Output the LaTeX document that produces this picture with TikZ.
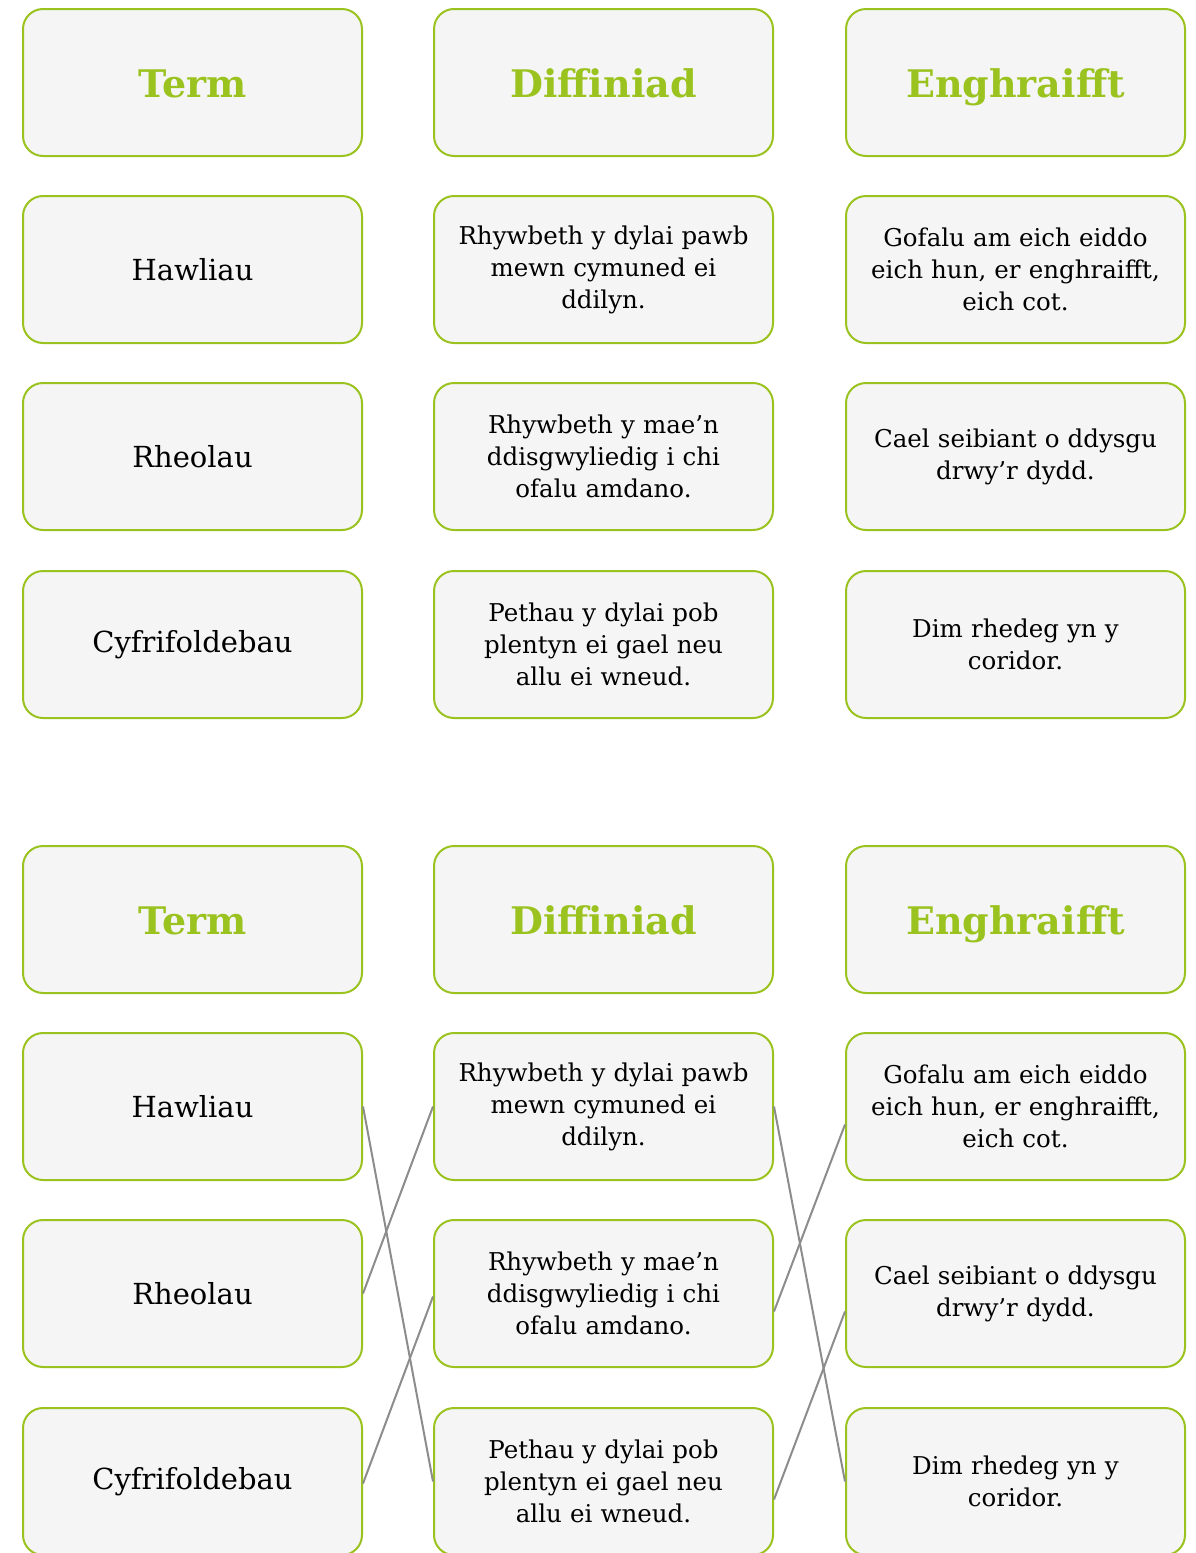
\documentclass[tikz,border=0pt]{standalone}
\usepackage{fontspec}
\setmainfont{DejaVu Serif}
\definecolor{boxgreen}{HTML}{9BC31F}
\definecolor{boxfill}{HTML}{F5F5F5}
\definecolor{linkgray}{HTML}{8C8C8C}
\begin{document}
\begin{tikzpicture}[x=1pt,y=-1pt,
  card/.style={draw=boxgreen, line width=2pt, fill=boxfill, rounded corners=20pt,
    minimum width=339pt, minimum height=147pt, inner sep=0pt, align=center,
    text width=330pt, font=\fontsize{24.5}{32}\selectfont},
  termcard/.style={card, font=\fontsize{29}{34}\selectfont},
  headcard/.style={card, text=boxgreen, font=\fontsize{38}{44}\selectfont\bfseries,
    text height=29pt, text depth=0pt},
  link/.style={draw=linkgray, line width=2pt}]
\useasboundingbox (0,0) rectangle (1195,1553);
\foreach \yo/\s in {0/a,837/b}{
  \node[headcard] (\s h1) at (192.5,82.5+\yo) {Term};
  \node[headcard] (\s h2) at (603.5,82.5+\yo) {Diffiniad};
  \node[headcard] (\s h3) at (1015.5,82.5+\yo) {Enghraifft};
  \node[termcard] (\s t1) at (192.5,269.5+\yo) {Hawliau};
  \node[termcard] (\s t2) at (192.5,456.5+\yo) {Rheolau};
  \node[termcard] (\s t3) at (192.5,644.5+\yo) {Cyfrifoldebau};
  \node[card] (\s d1) at (603.5,269.5+\yo) {Rhywbeth y dylai pawb\\mewn cymuned ei\\ddilyn.};
  \node[card] (\s d2) at (603.5,456.5+\yo) {Rhywbeth y mae’n\\ddisgwyliedig i chi\\ofalu amdano.};
  \node[card] (\s d3) at (603.5,644.5+\yo) {Pethau y dylai pob\\plentyn ei gael neu\\allu ei wneud.};
  \node[card] (\s e1) at (1015.5,269.5+\yo) {Gofalu am eich eiddo\\eich hun, er enghraifft,\\eich cot.};
  \node[card] (\s e2) at (1015.5,456.5+\yo) {Cael seibiant o ddysgu\\drwy’r dydd.};
  \node[card] (\s e3) at (1015.5,644.5+\yo) {Dim rhedeg yn y\\coridor.};
}
\draw[link] (bt1.east) -- (bd3.west);
\draw[link] (bt2.east) -- (bd1.west);
\draw[link] ([yshift=-2pt]bt3.east) -- ([yshift=-3pt]bd2.west);
\draw[link] (bd1.east) -- (be3.west);
\draw[link] ([yshift=-18pt]bd2.east) -- ([yshift=-18pt]be1.west);
\draw[link] ([yshift=-18pt]bd3.east) -- ([yshift=-18pt]be2.west);
\end{tikzpicture}
\end{document}
